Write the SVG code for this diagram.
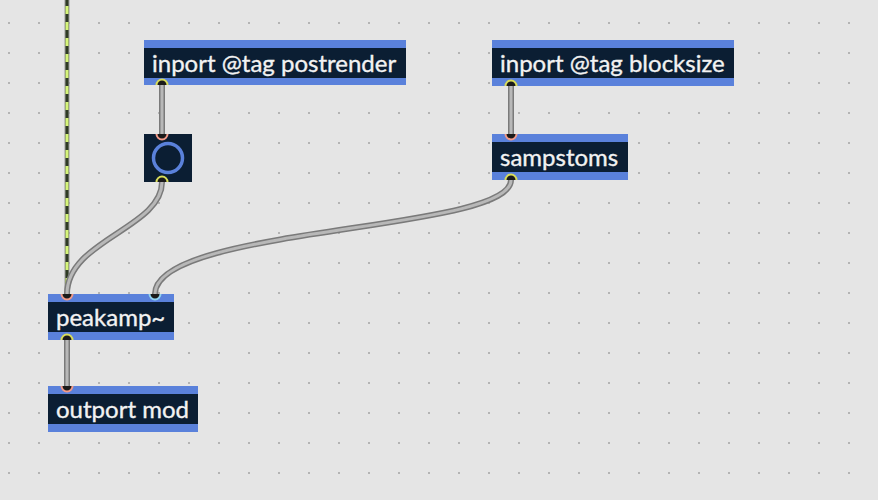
<svg xmlns="http://www.w3.org/2000/svg" width="878" height="500" viewBox="0 0 878 500">
<defs>
<pattern id="grid" x="0" y="0" width="30" height="30" patternUnits="userSpaceOnUse">
<rect x="8" y="22" width="2" height="2" fill="#b4b4b4"/>
</pattern>
<style>
.band{fill:#5a81db}
.body{fill:#0b1e33}
.lbl{font-family:Lato,"Open Sans",sans-serif;font-size:24px;fill:#f2f2f2;stroke:#f2f2f2;stroke-width:0.35}
.cordo{fill:none;stroke:#7a7a7a;stroke-width:6;stroke-linecap:round}
.cordi{fill:none;stroke:#b8b8b8;stroke-width:3;stroke-linecap:round}
.outp{fill:#1a1a1a;stroke:#d8dc5a;stroke-width:2}
.inp{fill:#1a1a1a;stroke:#f29a88;stroke-width:2}
.inp2{fill:#1a1a1a;stroke:#8fd3f0;stroke-width:2}
</style>
<clipPath id="c1"><rect x="144" y="40" width="262" height="45"/></clipPath>
<clipPath id="c2"><rect x="144" y="134" width="48" height="48"/></clipPath>
<clipPath id="c3"><rect x="492" y="40" width="242" height="46"/></clipPath>
<clipPath id="c4"><rect x="492" y="134" width="136" height="46"/></clipPath>
<clipPath id="c5"><rect x="48" y="294" width="126" height="46"/></clipPath>
<clipPath id="c6"><rect x="48" y="386" width="150" height="46"/></clipPath>
</defs>
<rect width="878" height="500" fill="#e5e5e5"/>
<rect width="878" height="500" fill="url(#grid)"/>

<g id="connectors">
<line x1="67" y1="0" x2="67" y2="294" stroke="#9a9a9a" stroke-width="5"/>
<line x1="67" y1="-2" x2="67" y2="294" stroke="#2f3b25" stroke-width="3"/>
<line x1="67" y1="6" x2="67" y2="294" stroke="#d6f57a" stroke-width="3" stroke-dasharray="8 8"/>
<path class="cordo" d="M162,85 L162,134"/>
<path class="cordi" d="M162,85 L162,134"/>
<path class="cordo" d="M162,182 C162,228 67,240 67,294"/>
<path class="cordi" d="M162,182 C162,228 67,240 67,294"/>
<path class="cordo" d="M511,85 L511,134"/>
<path class="cordi" d="M511,85 L511,134"/>
<path class="cordo" d="M511,180 C511,232 155,226 155,294"/>
<path class="cordi" d="M511,180 C511,232 155,226 155,294"/>
<path class="cordo" d="M67,340 L67,386"/>
<path class="cordi" d="M67,340 L67,386"/>
</g>

<g id="inport-postrender" clip-path="url(#c1)">
<rect class="band" x="144" y="40" width="262" height="45"/>
<rect class="body" x="144" y="48" width="262" height="30"/>
<text class="lbl" x="152" y="72">inport @tag postrender</text>
<circle class="outp" cx="162" cy="85" r="5.5"/>
</g>

<g id="button" clip-path="url(#c2)">
<rect class="body" x="144" y="134" width="48" height="48"/>
<circle cx="168" cy="158" r="14.5" fill="none" stroke="#5a81db" stroke-width="3.5"/>
<circle class="inp" cx="162" cy="134" r="5.5"/>
<circle class="outp" cx="162" cy="182" r="5.5"/>
</g>

<g id="inport-blocksize" clip-path="url(#c3)">
<rect class="band" x="492" y="40" width="242" height="46"/>
<rect class="body" x="492" y="48" width="242" height="30"/>
<text class="lbl" x="500" y="72">inport @tag blocksize</text>
<circle class="outp" cx="511" cy="86" r="5.5"/>
</g>

<g id="sampstoms" clip-path="url(#c4)">
<rect class="band" x="492" y="134" width="136" height="46"/>
<rect class="body" x="492" y="142" width="136" height="30"/>
<text class="lbl" x="500" y="166">sampstoms</text>
<circle class="inp" cx="511" cy="134" r="5.5"/>
<circle class="outp" cx="511" cy="180" r="5.5"/>
</g>

<g id="peakamp" clip-path="url(#c5)">
<rect class="band" x="48" y="294" width="126" height="46"/>
<rect class="body" x="48" y="302" width="126" height="30"/>
<text class="lbl" x="56" y="326">peakamp~</text>
<circle class="inp" cx="67" cy="294" r="5.5"/>
<circle class="inp2" cx="155" cy="294" r="5.5"/>
<circle class="outp" cx="67" cy="340" r="5.5"/>
</g>

<g id="outport-mod" clip-path="url(#c6)">
<rect class="band" x="48" y="386" width="150" height="46"/>
<rect class="body" x="48" y="394" width="150" height="30"/>
<text class="lbl" x="56" y="418">outport mod</text>
<circle class="inp" cx="67" cy="386" r="5.5"/>
</g>
</svg>
